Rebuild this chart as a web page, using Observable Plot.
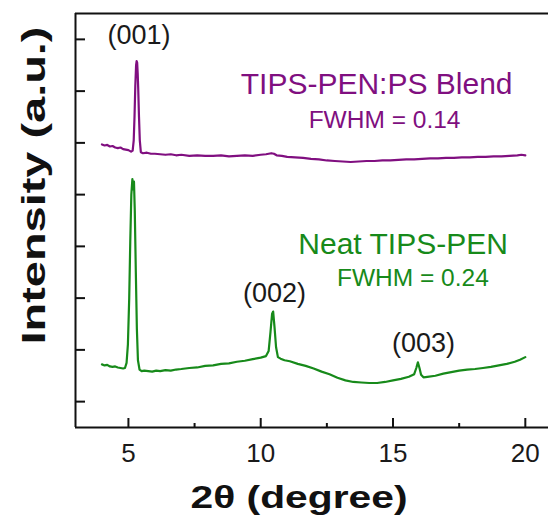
<!DOCTYPE html>
<html>
<head>
<meta charset="utf-8">
<script src="https://cdn.jsdelivr.net/npm/d3@7"></script>
<script src="https://cdn.jsdelivr.net/npm/@observablehq/plot@0.6"></script>
<style>
  html, body { margin: 0; padding: 0; background: #fff; }
  #chart svg { display: block; }
</style>
</head>
<body>
<div id="chart"></div>
<script>
// ---- data ----
const blendTheta = [4.0,4.1,4.2,4.3,4.4,4.5,4.6,4.7,4.8,4.9,5.0,5.1,5.16,5.2,5.23,5.26,5.29,5.31,5.33,5.35,5.37,5.4,5.43,5.47,5.55,5.7,5.85,6.0,6.2,6.4,6.6,6.8,7.0,7.3,7.6,7.9,8.2,8.5,8.8,9.1,9.4,9.7,10.0,10.2,10.4,10.5,10.6,10.8,11.0,11.3,11.6,11.9,12.2,12.5,12.8,13.1,13.4,13.7,14.0,14.3,14.6,14.9,15.2,15.5,15.8,16.1,16.4,16.7,17.0,17.3,17.6,17.9,18.2,18.5,18.8,19.1,19.4,19.7,19.85,20.0];
const blendIntensity = [5.47,5.45,5.46,5.43,5.44,5.41,5.40,5.41,5.38,5.37,5.36,5.33,5.35,5.55,6.0,6.6,7.0,7.08,7.05,6.85,6.55,6.0,5.55,5.32,5.30,5.31,5.29,5.29,5.28,5.27,5.28,5.26,5.27,5.25,5.26,5.25,5.25,5.26,5.24,5.25,5.26,5.25,5.27,5.28,5.30,5.29,5.26,5.25,5.23,5.22,5.21,5.19,5.18,5.16,5.15,5.14,5.13,5.14,5.15,5.15,5.16,5.16,5.17,5.18,5.18,5.19,5.20,5.20,5.21,5.21,5.22,5.22,5.23,5.23,5.24,5.24,5.25,5.26,5.27,5.26];

const neatTheta = [4.0,4.1,4.2,4.3,4.4,4.5,4.6,4.7,4.8,4.87,4.93,4.98,5.03,5.07,5.11,5.15,5.18,5.21,5.24,5.28,5.32,5.36,5.42,5.5,5.6,5.75,5.9,6.05,6.2,6.4,6.6,6.8,7.0,7.3,7.6,7.9,8.2,8.5,8.8,9.1,9.4,9.7,10.0,10.2,10.3,10.37,10.43,10.47,10.52,10.58,10.65,10.75,10.9,11.1,11.4,11.7,12.0,12.3,12.6,12.9,13.2,13.5,13.8,14.1,14.4,14.7,15.0,15.3,15.6,15.8,15.88,15.94,16.0,16.06,16.15,16.3,16.6,16.9,17.2,17.5,17.8,18.1,18.4,18.7,19.0,19.3,19.6,19.8,20.0];
const neatIntensity = [1.22,1.20,1.21,1.18,1.17,1.18,1.16,1.15,1.14,1.15,1.25,1.6,2.5,3.6,4.5,4.8,4.6,4.75,4.2,3.0,1.9,1.3,1.12,1.09,1.10,1.09,1.08,1.10,1.09,1.11,1.10,1.12,1.13,1.15,1.16,1.19,1.20,1.23,1.24,1.27,1.29,1.32,1.35,1.38,1.48,1.85,2.2,2.24,1.95,1.55,1.36,1.33,1.30,1.28,1.23,1.19,1.14,1.08,1.03,0.96,0.91,0.88,0.87,0.86,0.86,0.88,0.91,0.94,0.98,1.03,1.15,1.26,1.15,1.02,0.97,0.98,1.00,1.04,1.07,1.10,1.12,1.13,1.15,1.17,1.20,1.23,1.27,1.31,1.36];

const xTickValues = [5, 10, 15, 20];
const xMinorTicks = [7.5, 12.5, 17.5];
const yTickValues = [0.5, 1.5, 2.5, 3.5, 4.5, 5.5, 6.5, 7.5];

const peakLabels = ["(001)", "(002)", "(003)"];
const peakLabelTheta = [5.40, 10.52, 16.15];
const peakLabelIntensity = [7.42, 2.42, 1.45];

const seriesLabels = ["TIPS-PEN:PS Blend", "Neat TIPS-PEN"];
const seriesLabelTheta = [14.38, 15.38];
const seriesLabelIntensity = [6.45, 3.36];
const fwhmLabels = ["FWHM = 0.14", "FWHM = 0.24"];
const fwhmLabelTheta = [14.68, 15.75];
const fwhmLabelIntensity = [5.79, 2.73];

const xTitle = "2\u03b8 (degree)";
const yTitle = "Intensity (a.u.)";

// ---- styling ----
const purple = "#800f80";
const green = "#178a1a";
const font = "'Liberation Sans', Arial, Helvetica, sans-serif";

const blend = blendTheta.map((t, i) => ({t, v: blendIntensity[i]}));
const neat = neatTheta.map((t, i) => ({t, v: neatIntensity[i]}));
const peaks = peakLabels.map((s, i) => ({s, t: peakLabelTheta[i], v: peakLabelIntensity[i]}));
const series = seriesLabels.map((s, i) => ({s, t: seriesLabelTheta[i], v: seriesLabelIntensity[i], c: i === 0 ? purple : green}));
const fwhm = fwhmLabels.map((s, i) => ({s, t: fwhmLabelTheta[i], v: fwhmLabelIntensity[i], c: i === 0 ? purple : green}));

const xDomain = [3, 20.876];
const yDomain = [0, 8];

const plot = Plot.plot({
  width: 548,
  height: 515,
  marginTop: 13,
  marginBottom: 88,
  marginLeft: 75,
  marginRight: 0,
  style: {fontFamily: font, background: "#fff", color: "#111", overflow: "visible"},
  x: {domain: xDomain},
  y: {domain: yDomain},
  marks: [
    // frame (top, left, bottom)
    Plot.ruleY([yDomain[0], yDomain[1]], {stroke: "#111", strokeWidth: 2}),
    Plot.ruleX([xDomain[0]], {stroke: "#111", strokeWidth: 2}),
    // ticks (inward)
    Plot.axisX({ticks: xTickValues, tickSize: -9, text: null, strokeWidth: 2, label: null}),
    Plot.axisX({ticks: xMinorTicks, tickSize: -4, text: null, strokeWidth: 2, label: null}),
    Plot.axisY({ticks: yTickValues, tickSize: -10, text: null, strokeWidth: 2, label: null}),
    Plot.axisX({ticks: xTickValues, tickSize: 0, tickPadding: 16, fontSize: 26, tickFormat: d => String(d), label: null, fill: "#1a1a1a"}),
    // curves
    Plot.line(blend, {x: "t", y: "v", stroke: purple, strokeWidth: 2.2}),
    Plot.line(neat, {x: "t", y: "v", stroke: green, strokeWidth: 2.2}),
    // annotations
    Plot.text(peaks, {x: "t", y: "v", text: "s", fontSize: 27, lineAnchor: "bottom", fill: "#1a1a1a"}),
    Plot.text(series, {x: "t", y: "v", text: "s", fontSize: 30, lineAnchor: "bottom", fill: "c"}),
    Plot.text(fwhm, {x: "t", y: "v", text: "s", fontSize: 24.5, lineAnchor: "bottom", fill: "c"}),
    // axis titles
    Plot.text([xTitle], {frameAnchor: "bottom", textAnchor: "middle", dx: -13, dy: 80, lineAnchor: "bottom", fontSize: 32, fontWeight: "bold", fill: "#111"}),
    Plot.text([yTitle], {frameAnchor: "left", textAnchor: "middle", rotate: -90, dx: -31, dy: -35, lineAnchor: "bottom", fontSize: 33, fontWeight: "bold", fill: "#111"})
  ]
});

// stretch the axis titles to the lengths seen in the reference
d3.select(plot).selectAll("text").each(function () {
  const s = this.textContent;
  if (s === xTitle) { this.setAttribute("textLength", 217); this.setAttribute("lengthAdjust", "spacingAndGlyphs"); }
  if (s === yTitle) { this.setAttribute("textLength", 318); this.setAttribute("lengthAdjust", "spacingAndGlyphs"); }
});

document.getElementById("chart").appendChild(plot);
</script>
</body>
</html>
